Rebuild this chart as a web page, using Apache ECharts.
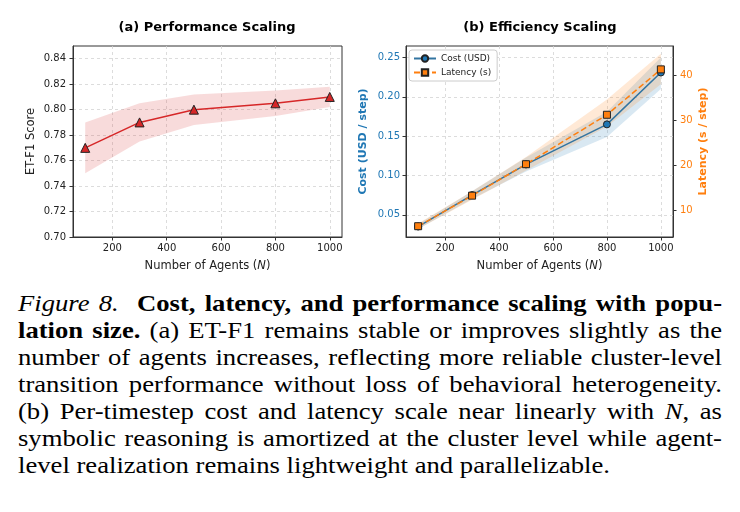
<!DOCTYPE html>
<html>
<head>
<meta charset="utf-8">
<script src="https://cdn.jsdelivr.net/npm/echarts@6/dist/echarts.min.js"></script>
<style>
  html, body { margin: 0; padding: 0; background: #fff; }
  #chart { position: absolute; left: 0; top: 0; width: 740px; height: 285px; }
  #caption {
    position: absolute; left: 18px; top: 290px; width: 704px;
    font-family: "Liberation Serif", "Times New Roman", Tinos, "DejaVu Serif Condensed", serif;
    font-size: 23px; line-height: 27px; color: #000;
  }
  #caption div { white-space: nowrap; text-align: left; transform-origin: 0 0; }
  #caption div.just { text-align: justify; text-align-last: justify; }
</style>
</head>
<body>
<div id="chart"></div>
<div id="caption">
  <div><i>Figure 8.</i>&nbsp; <b>Cost, latency, and performance scaling with popu-</b></div>
  <div><b>lation size.</b> (a) ET-F1 remains stable or improves slightly as the</div>
  <div>number of agents increases, reflecting more reliable cluster-level</div>
  <div>transition performance without loss of behavioral heterogeneity.</div>
  <div>(b) Per-timestep cost and latency scale near linearly with <i>N</i>, as</div>
  <div>symbolic reasoning is amortized at the cluster level while agent-</div>
  <div>level realization remains lightweight and parallelizable.</div>
</div>
<script>
// x positions (number of agents)
const agents = [100, 300, 500, 800, 1000];

// (a) ET-F1 score with band
const f1Score = [0.770, 0.790, 0.800, 0.805, 0.810];
const f1Low   = [0.750, 0.775, 0.788, 0.795, 0.802];
const f1High  = [0.790, 0.805, 0.812, 0.815, 0.818];

// (b) cost (USD / step) with band
const cost     = [0.035, 0.075, 0.114, 0.165, 0.231];
const costLow  = [0.032, 0.070, 0.105, 0.149, 0.210];
const costHigh = [0.038, 0.080, 0.123, 0.181, 0.250];

// (b) latency (s / step) with band
const latency = [6.4, 13.2, 20.2, 31.2, 41.3];
const latLow  = [5.8, 12.3, 18.8, 28.6, 38.0];
const latHigh = [7.0, 14.2, 21.8, 34.6, 44.8];

// tick labels
const xTicks = [200, 400, 600, 800, 1000];
const f1Ticks = [0.70, 0.72, 0.74, 0.76, 0.78, 0.80, 0.82, 0.84];
const costTicks = [0.05, 0.10, 0.15, 0.20, 0.25];
const latTicks = [10, 20, 30, 40];

const FONT = 'DejaVu Sans';
const BLUE = '#1f77b4';
const ORANGE = '#ff7f0e';
const RED = '#d62728';

const chart = echarts.init(document.getElementById('chart'));

// band drawn once as a polygon through the axis scales
function bandSeries(name, xi, yi, low, high, fill) {
  return {
    name: name,
    type: 'custom',
    xAxisIndex: xi,
    yAxisIndex: yi,
    silent: true,
    data: agents.map((x, i) => [x, low[i], high[i]]),
    encode: { x: 0, y: [1, 2] },
    renderItem: function (params, api) {
      if (params.dataIndex !== 0) return null;
      const pts = [];
      for (let i = 0; i < agents.length; i++) pts.push(api.coord([agents[i], high[i]]));
      for (let i = agents.length - 1; i >= 0; i--) pts.push(api.coord([agents[i], low[i]]));
      return { type: 'polygon', shape: { points: pts }, style: { fill: fill, stroke: null } };
    },
    z: 1
  };
}

function xAxisCfg(gi) {
  return {
    gridIndex: gi,
    type: 'value',
    min: 55,
    max: 1045,
    name: '{t|Number of Agents (}{i|N}{t|)}',
    nameLocation: 'middle',
    nameGap: 23,
    nameTextStyle: {
      rich: {
        t: { fontFamily: FONT, fontSize: 11.5, color: '#222' },
        i: { fontFamily: FONT, fontSize: 11.5, color: '#222', fontStyle: 'italic' }
      }
    },
    axisLine: { show: true, lineStyle: { color: '#333', width: 1 } },
    axisTick: { show: true, length: 3.5, customValues: xTicks, lineStyle: { color: '#333' } },
    axisLabel: { customValues: xTicks, fontFamily: FONT, fontSize: 10, color: '#222', margin: 6, formatter: v => String(v) },
    splitLine: { show: true, lineStyle: { color: '#d4d4d4', type: [3, 3], width: 0.8 } }
  };
}

const gridLine = { show: true, lineStyle: { color: '#d4d4d4', type: [3, 3], width: 0.8 } };

const option = {
  backgroundColor: '#fff',
  animation: false,
  graphic: [
    { type: 'text', x: 207, y: 28, style: { text: '(a) Performance Scaling', font: 'bold 13px "DejaVu Sans"', fill: '#000', textAlign: 'center', textVerticalAlign: 'middle' } },
    { type: 'text', x: 540, y: 28, style: { text: '(b) Efficiency Scaling', font: 'bold 13px "DejaVu Sans"', fill: '#000', textAlign: 'center', textVerticalAlign: 'middle' } }
  ],
  grid: [
    { left: 73, top: 46, width: 269, height: 191, show: true, borderColor: '#333', borderWidth: 1, backgroundColor: 'transparent' },
    { left: 406, top: 46, width: 267, height: 191, show: true, borderColor: '#333', borderWidth: 1, backgroundColor: 'transparent' }
  ],
  legend: {
    data: [
      { name: 'Cost (USD)' },
      { name: 'Latency (s)' }
    ],
    orient: 'vertical',
    left: 409,
    top: 50,
    itemWidth: 22,
    itemHeight: 8,
    itemGap: 5,
    padding: [4, 6, 4, 4],
    borderColor: '#ccc',
    borderWidth: 1,
    borderRadius: 3,
    backgroundColor: '#fff',
    textStyle: { fontFamily: FONT, fontSize: 9, color: '#222' }
  },
  xAxis: [xAxisCfg(0), xAxisCfg(1)],
  yAxis: [
    {
      gridIndex: 0,
      type: 'value',
      min: 0.70,
      max: 0.85,
      name: 'ET-F1 Score',
      nameLocation: 'middle',
      nameGap: 36,
      nameTextStyle: { fontFamily: FONT, fontSize: 11.5, color: '#222' },
      axisLine: { show: true, lineStyle: { color: '#333' } },
      axisTick: { show: true, length: 3.5, customValues: f1Ticks, lineStyle: { color: '#333' } },
      axisLabel: { customValues: f1Ticks, fontFamily: FONT, fontSize: 10, color: '#222', margin: 7, formatter: v => v.toFixed(2) },
      splitLine: gridLine
    },
    {
      gridIndex: 1,
      type: 'value',
      position: 'left',
      min: 0.0217,
      max: 0.2647,
      name: 'Cost (USD / step)',
      nameLocation: 'middle',
      nameGap: 37,
      nameTextStyle: { fontFamily: FONT, fontSize: 11, fontWeight: 'bold', color: BLUE },
      axisLine: { show: true, lineStyle: { color: '#333' } },
      axisTick: { show: true, length: 3.5, customValues: costTicks, lineStyle: { color: '#333' } },
      axisLabel: { customValues: costTicks, fontFamily: FONT, fontSize: 10, color: BLUE, margin: 6, formatter: v => v.toFixed(2) },
      splitLine: gridLine
    },
    {
      gridIndex: 1,
      type: 'value',
      position: 'right',
      min: 4.0,
      max: 46.5,
      name: 'Latency (s / step)',
      nameLocation: 'middle',
      nameGap: 25,
      nameTextStyle: { fontFamily: FONT, fontSize: 11, fontWeight: 'bold', color: ORANGE },
      axisLine: { show: true, lineStyle: { color: '#333' } },
      axisTick: { show: true, length: 3.5, customValues: latTicks, lineStyle: { color: '#333' } },
      axisLabel: { customValues: latTicks, fontFamily: FONT, fontSize: 10, color: ORANGE, margin: 7 },
      splitLine: { show: false }
    }
  ],
  series: [
    bandSeries('f1band', 0, 0, f1Low, f1High, 'rgba(214,39,40,0.17)'),
    {
      name: 'ET-F1',
      type: 'line',
      xAxisIndex: 0,
      yAxisIndex: 0,
      data: agents.map((x, i) => [x, f1Score[i]]),
      symbol: 'triangle',
      symbolSize: 9,
      lineStyle: { color: RED, width: 1.5 },
      itemStyle: { color: RED, borderColor: '#222', borderWidth: 1 },
      z: 3
    },
    bandSeries('costband', 1, 1, costLow, costHigh, 'rgba(31,119,180,0.17)'),
    bandSeries('latband', 1, 2, latLow, latHigh, 'rgba(255,127,14,0.17)'),
    {
      name: 'Cost (USD)',
      type: 'line',
      xAxisIndex: 1,
      yAxisIndex: 1,
      data: agents.map((x, i) => [x, cost[i]]),
      symbol: 'circle',
      symbolSize: 7,
      lineStyle: { color: '#3274a1', width: 1.5 },
      itemStyle: { color: BLUE, borderColor: '#222', borderWidth: 1 },
      z: 3
    },
    {
      name: 'Latency (s)',
      type: 'line',
      xAxisIndex: 1,
      yAxisIndex: 2,
      data: agents.map((x, i) => [x, latency[i]]),
      symbol: 'rect',
      symbolSize: 7,
      lineStyle: { color: ORANGE, width: 1.5, type: [6, 3] },
      itemStyle: { color: ORANGE, borderColor: '#222', borderWidth: 1 },
      z: 4
    }
  ]
};

chart.setOption(option);

// fit caption: last line ends near x=610, other lines justified to the full width
function fitCaption() {
  const full = 704, lastTarget = 592;
  const lines = Array.from(document.querySelectorAll('#caption div'));
  const widths = lines.map(d => {
    const r = document.createRange();
    r.selectNodeContents(d);
    return r.getBoundingClientRect().width;
  });
  const s = lastTarget / widths[widths.length - 1];
  lines.forEach((d, i) => {
    if (i === lines.length - 1) {
      d.style.width = (full / s) + 'px';
      d.style.transform = 'scaleX(' + s + ')';
      return;
    }
    let k = s;
    if (widths[i] * s > full) k = full / widths[i];
    d.style.width = (full / k) + 'px';
    d.style.transform = 'scaleX(' + k + ')';
    d.classList.add('just');
  });
}
fitCaption();
</script>
</body>
</html>
